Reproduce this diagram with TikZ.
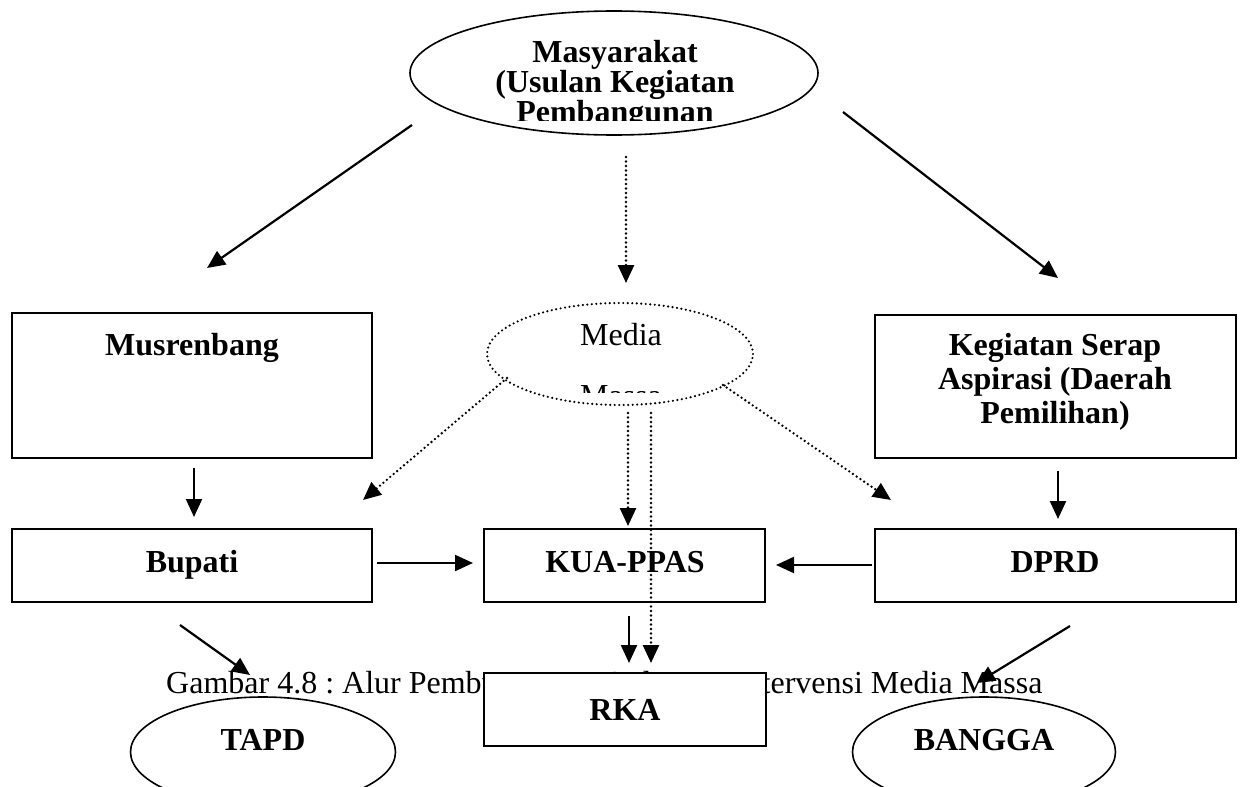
\documentclass[tikz,border=0pt]{standalone}
\usepackage{fontspec}
\setmainfont{Liberation Serif}
\usetikzlibrary{arrows.meta,shapes.geometric}
\begin{document}
\frenchspacing
\begin{tikzpicture}[x=1pt,y=-1pt,
  box/.style={draw,line width=2pt,rectangle,inner sep=0pt},
  oval/.style={draw,line width=1.6pt,ellipse,inner sep=0pt},
  dotoval/.style={draw,line width=2.4pt,line cap=round,dash pattern=on 0pt off 4.5pt,ellipse,inner sep=0pt},
  lbl/.style={font=\fontsize{32}{38}\selectfont\bfseries,anchor=base,inner sep=0pt},
  plain/.style={font=\fontsize{32}{38}\selectfont,anchor=base,inner sep=0pt},
  arr/.style={line width=2.2pt,-{Triangle[length=18pt,width=16pt]}},
  dotarr/.style={line width=2.6pt,line cap=round,dash pattern=on 0pt off 4.5pt,-{Triangle[length=18pt,width=16pt]}}]
\useasboundingbox[fill=white] (0,0) rectangle (1240,787);

% ovals and boxes
\node[oval,minimum width=408pt,minimum height=124pt] (mas) at (614,73) {};
\begin{scope}
\clip (400,0) rectangle (840,120);
\node[lbl] (mast1) at (615,62) {Masyarakat};
\node[lbl] (mast2) at (615,92) {(Usulan Kegiatan};
\node[lbl] (mast3) at (615,122) {Pembangunan};
\end{scope}

\node[dotoval,minimum width=266pt,minimum height=102pt] (media) at (620,354) {};
\node[plain] (mediat1) at (621,345) {Media};
\begin{scope}
\clip (480,300) rectangle (760,392);
\node[plain] (mediat2) at (621,406) {Massa};
\end{scope}

\node[box,minimum width=360pt,minimum height=145pt] (mus) at (192,385.5) {};
\node[lbl] (must) at (192,355) {Musrenbang};

\node[box,minimum width=361pt,minimum height=143pt] (keg) at (1055.5,386.5) {};
\node[lbl] (kegt1) at (1055,355) {Kegiatan Serap};
\node[lbl] (kegt2) at (1055,389) {Aspirasi (Daerah};
\node[lbl] (kegt3) at (1055,423) {Pemilihan)};

\node[box,minimum width=360pt,minimum height=73pt] (bup) at (192,565.5) {};
\node[lbl] (bupt) at (192,572) {Bupati};
\node[box,minimum width=281pt,minimum height=73pt] (kua) at (624.5,565.5) {};
\node[lbl] (kuat) at (625,572) {KUA-PPAS};
\node[box,minimum width=361pt,minimum height=73pt] (dprd) at (1055.5,565.5) {};
\node[lbl] (dprdt) at (1055,572) {DPRD};

\node[oval,minimum width=265pt,minimum height=110pt] (tapd) at (263,752) {};
\node[lbl] (tapdt) at (263,750) {TAPD};
\node[oval,minimum width=263pt,minimum height=110pt] (bangga) at (984,752) {};
\node[lbl] (banggat) at (984,750) {BANGGA};

% caption, partly hidden behind RKA
\node[plain,anchor=base west] (cap) at (166,693) {Gambar 4.8 : Alur Pembuatan RKA dengan Intervensi Media Massa};
\node[box,fill=white,minimum width=282pt,minimum height=73pt] (rka) at (625,709.5) {};
\node[lbl] (rkat) at (625,720) {RKA};

% connector end points
\coordinate (a1s) at (412,125); \coordinate (a1e) at (207,268);
\coordinate (a2s) at (843,112); \coordinate (a2e) at (1058,278);
\coordinate (a3s) at (626,157); \coordinate (a3e) at (626,283);
\coordinate (d1s) at (507,378); \coordinate (d1e) at (363,500);
\coordinate (d2s) at (723,385); \coordinate (d2e) at (891,500);
\coordinate (d3s) at (628,413); \coordinate (d3e) at (628,526);
\coordinate (d4s) at (651,413); \coordinate (d4e) at (651,663);
\coordinate (b1s) at (194,468); \coordinate (b1e) at (194,517);
\coordinate (b2s) at (1058,471); \coordinate (b2e) at (1058,519);
\coordinate (h1s) at (377,563); \coordinate (h1e) at (473,563);
\coordinate (h2s) at (872,565); \coordinate (h2e) at (776,565);
\coordinate (k1s) at (629,616); \coordinate (k1e) at (629,663);
\coordinate (t1s) at (180,625); \coordinate (t1e) at (250,675);
\coordinate (t2s) at (1070,626); \coordinate (t2e) at (977,683);

\draw[arr] (a1s) -- (a1e);
\draw[arr] (a2s) -- (a2e);
\draw[dotarr] (a3s) -- (a3e);
\draw[dotarr] (d1s) -- (d1e);
\draw[dotarr] (d2s) -- (d2e);
\draw[dotarr] (d3s) -- (d3e);
\draw[dotarr] (d4s) -- (d4e);
\draw[arr] (b1s) -- (b1e);
\draw[arr] (b2s) -- (b2e);
\draw[arr] (h1s) -- (h1e);
\draw[arr] (h2s) -- (h2e);
\draw[arr] (k1s) -- (k1e);
\draw[arr] (t1s) -- (t1e);
\draw[arr] (t2s) -- (t2e);
\end{tikzpicture}
\end{document}
